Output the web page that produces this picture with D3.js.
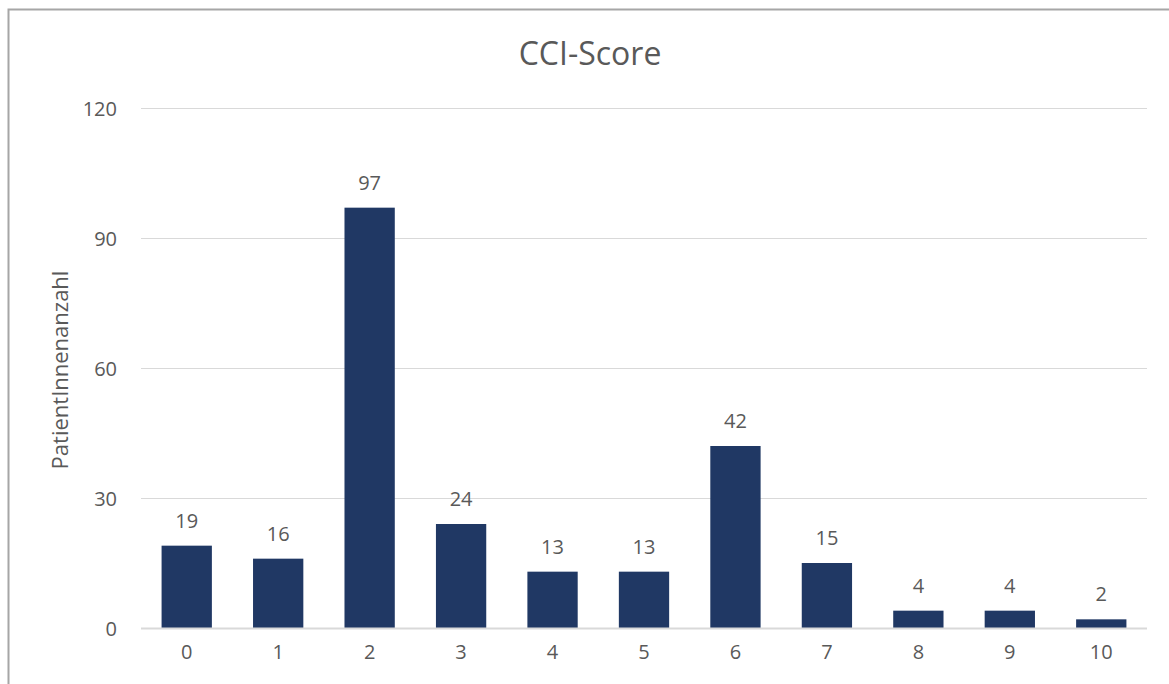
<!DOCTYPE html>
<html><head><meta charset="utf-8">
<script src="https://cdn.jsdelivr.net/npm/d3@7"></script>
<style>body{margin:0;background:#fff;} text{font-family:"Open Sans","Noto Sans",sans-serif;}</style>
</head><body>
<svg id="c" width="1169" height="684"></svg>
<script>
const categories = ["0","1","2","3","4","5","6","7","8","9","10"];
const values = [19,16,97,24,13,13,42,15,4,4,2];
const yTicks = [0,30,60,90,120];
const title = "CCI-Score";
const yLabel = "PatientInnenanzahl";

const svg = d3.select("#c");
const W = 1169, H = 684;
const m = {left:141, right:22, top:108, bottom:56};
const x = d3.scaleBand().domain(categories).range([m.left, W - m.right]).paddingInner(0.45).paddingOuter(0.225);
const y = d3.scaleLinear().domain([0,120]).range([H - m.bottom, m.top]);
const textCol = "#595959";

// outer border (chart frame)
svg.append("path").attr("d", `M8.5,${H} L8.5,9.5 L${W},9.5`).attr("fill","none").attr("stroke","#a6a6a6").attr("stroke-width",2);

// gridlines
svg.append("g").selectAll("line").data(yTicks).join("line")
  .attr("x1", m.left).attr("x2", W - m.right)
  .attr("y1", d => Math.round(y(d)) + 0.5).attr("y2", d => Math.round(y(d)) + 0.5)
  .attr("stroke", "#d9d9d9").attr("stroke-width", 1);

// y axis labels
const yAxis = d3.axisLeft(y).tickValues(yTicks).tickSize(0).tickPadding(0);
const gy = svg.append("g").attr("transform", `translate(117,0)`).call(yAxis);
gy.select(".domain").remove();
gy.selectAll("text").attr("fill", textCol).style("font-size","20px").attr("dy","0.35em");

// bars
svg.append("g").selectAll("rect").data(values).join("rect")
  .attr("x", (d,i) => x(categories[i]))
  .attr("width", x.bandwidth())
  .attr("y", d => y(d))
  .attr("height", d => y(0) - y(d))
  .attr("fill", "#203864");

// baseline
svg.append("line").attr("x1", m.left).attr("x2", W - m.right)
  .attr("y1", y(0) + 0.5).attr("y2", y(0) + 0.5).attr("stroke","#d9d9d9").attr("stroke-width",2);

// x axis labels
const xAxis = d3.axisBottom(x).tickSize(0).tickPadding(0);
const gx = svg.append("g").attr("transform", `translate(0,${y(0)})`).call(xAxis);
gx.select(".domain").remove();
gx.selectAll("text").attr("fill", textCol).style("font-size","20px").attr("y", 24).attr("dy","0.35em");

// value labels
svg.append("g").selectAll("text").data(values).join("text")
  .attr("x", (d,i) => x(categories[i]) + x.bandwidth()/2)
  .attr("y", d => y(d) - 18)
  .attr("text-anchor","middle").attr("fill", textCol).style("font-size","20px")
  .text(d => d);

// title
svg.append("text").attr("x", 590).attr("y", 65).attr("text-anchor","middle")
  .attr("fill", textCol).style("font-size","32px").text(title);

// y label
svg.append("text").attr("transform", `translate(68,${(y(0)+y(120))/2 + 2}) rotate(-90)`)
  .attr("text-anchor","middle").attr("fill", textCol).style("font-size","22px").text(yLabel);
</script>
</body></html>
